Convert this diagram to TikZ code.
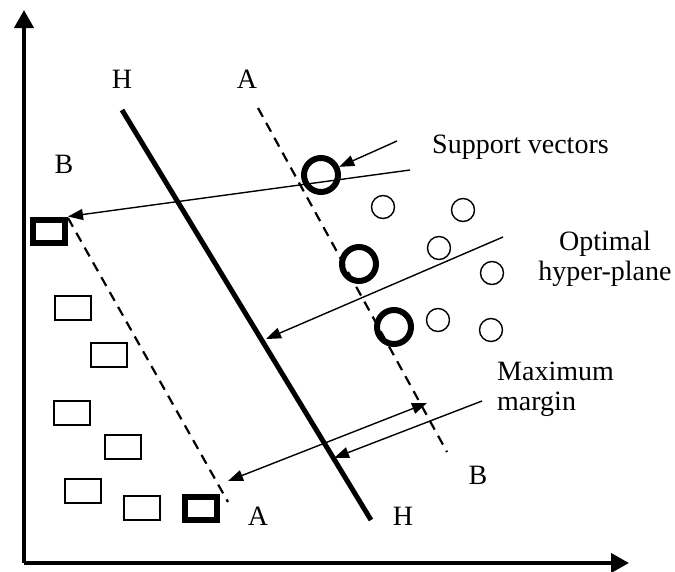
\documentclass[tikz,border=0pt]{standalone}
\usepackage{fontspec}
\setmainfont{Liberation Serif}
\usetikzlibrary{arrows.meta}
\tikzset{
  axis/.style={line width=4pt, -{Triangle[length=18pt, width=19pt]}},
  hplane/.style={line width=5pt},
  marginline/.style={line width=2.2pt, dash pattern=on 10pt off 7pt},
  pointer/.style={line width=1.4pt, -{Triangle[length=15pt, width=11pt]}},
  dpointer/.style={line width=1.4pt, {Triangle[length=15pt, width=11pt]}-{Triangle[length=15pt, width=11pt]}},
  pt/.style={circle, draw, line width=1.4pt, minimum size=23pt, inner sep=0pt},
  svpt/.style={circle, draw, line width=6pt, minimum size=34pt, inner sep=0pt},
  sq/.style={rectangle, draw, line width=1.5pt, minimum width=36pt, minimum height=24pt, inner sep=0pt},
  svsq/.style={rectangle, draw, line width=6pt, minimum width=32pt, minimum height=23pt, inner sep=0pt},
  lbl/.style={font=\fontsize{28}{30}\selectfont, inner sep=0pt},
}
\begin{document}
\begin{tikzpicture}[x=1pt, y=-1pt]
\useasboundingbox (0,0) rectangle (675,571);

% axes
\coordinate (o) at (24,563);
\coordinate (ytip) at (24,10);
\coordinate (xtip) at (629,563);
\draw[axis] (o) -- (ytip);
\draw[axis] (o) -- (xtip);

% separating line and the two margins
\coordinate (hTop) at (122,110);
\coordinate (hBot) at (371,520);
\coordinate (aTop) at (258,108);
\coordinate (bBot) at (447,452);
\coordinate (bTop) at (68,218);
\coordinate (aBot) at (228,502);
\draw[hplane] (hTop) -- (hBot);
\draw[marginline] (aTop) -- (bBot);
\draw[marginline] (bTop) -- (aBot);

\node[lbl, anchor=base] (hT) at (122,88) {H};
\node[lbl, anchor=base] (aT) at (247,88) {A};
\node[lbl, anchor=base] (bL) at (64,173) {B};
\node[lbl, anchor=base] (aB) at (258,525) {A};
\node[lbl, anchor=base] (hB) at (403,525) {H};
\node[lbl, anchor=base] (bR) at (478,484) {B};

% class of circles
\node[pt] (c1) at (383,207) {};
\node[pt] (c2) at (463,210) {};
\node[pt] (c3) at (439,248) {};
\node[pt] (c4) at (492,273) {};
\node[pt] (c5) at (438,320) {};
\node[pt] (c6) at (491,330) {};
\node[svpt] (sv1) at (321,175) {};
\node[svpt] (sv2) at (359,264) {};
\node[svpt] (sv3) at (394,327) {};

% class of squares
\node[sq] (r1) at (73,308) {};
\node[sq] (r2) at (109,355) {};
\node[sq] (r3) at (72,413) {};
\node[sq] (r4) at (123,447) {};
\node[sq] (r5) at (83,491) {};
\node[sq] (r6) at (142,508) {};
\node[svsq] (sb1) at (49,231) {};
\node[svsq] (sb2) at (201,508) {};

% labels with their pointers
\node[lbl, anchor=base west] (svT) at (432,153) {Support vectors};
\node[lbl, align=center] (optT) at (605,259) {Optimal\\hyper-plane};
\node[lbl, align=left, anchor=north west] (mmT) at (497,362) {Maximum\\margin};

\coordinate (svTail) at (397,141);
\coordinate (sbTail) at (410,170);
\coordinate (optTail) at (503,237);
\coordinate (optTip) at (266,339);
\coordinate (mmL) at (228,481);
\coordinate (mmR) at (427,403);
\coordinate (mmTail) at (482,401);
\coordinate (mmTip) at (334,458);
\draw[pointer] (svTail) -- (sv1);
\draw[pointer] (sbTail) -- (sb1.north east);
\draw[pointer] (optTail) -- (optTip);
\draw[dpointer] (mmL) -- (mmR);
\draw[pointer] (mmTail) -- (mmTip);
\end{tikzpicture}
\end{document}
